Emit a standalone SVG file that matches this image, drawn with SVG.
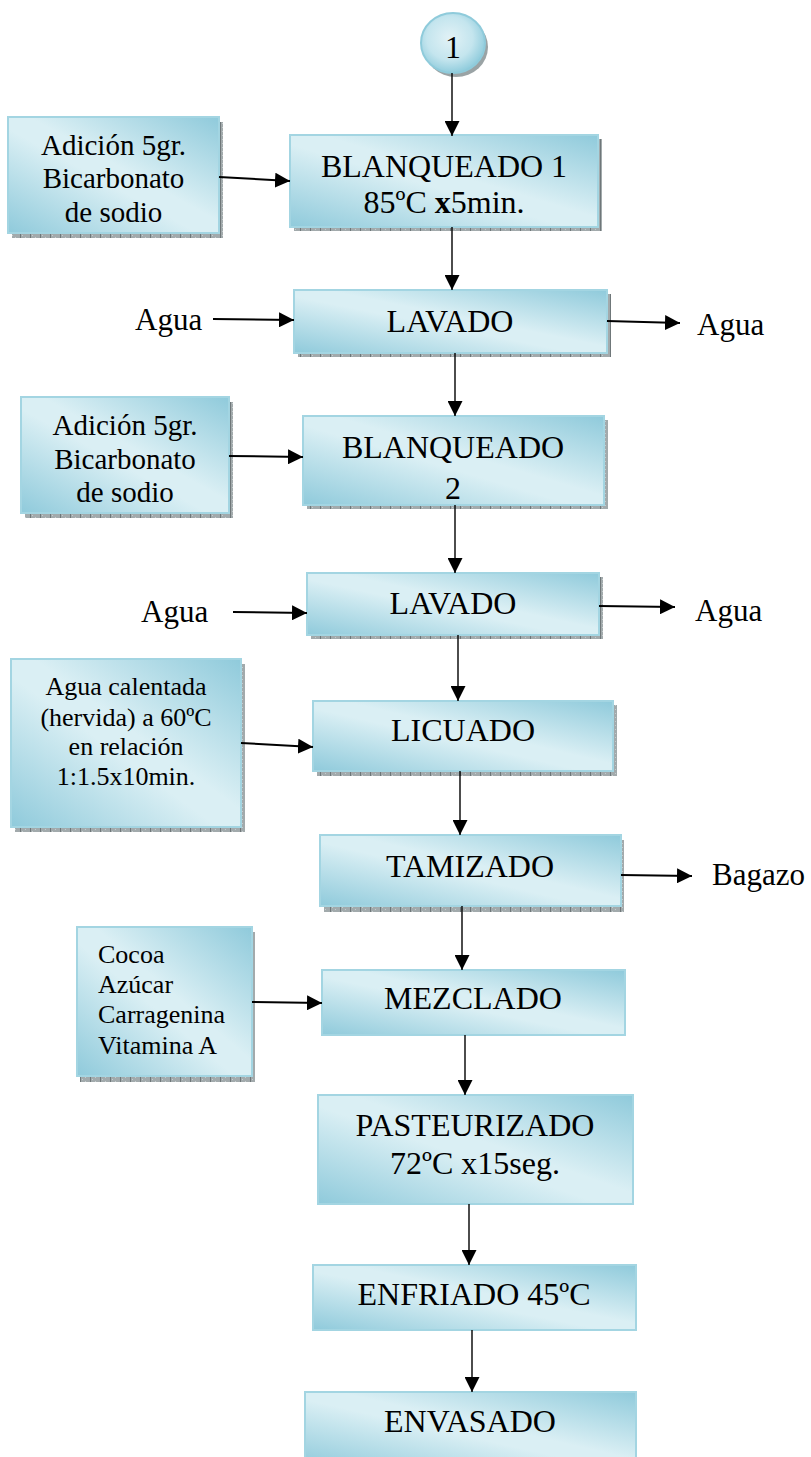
<svg xmlns="http://www.w3.org/2000/svg" width="811" height="1457" viewBox="0 0 811 1457">
  <style>
    .box { fill: url(#boxFill); stroke: #a3d5e2; stroke-width: 2; }
    .shadow { fill: url(#shadowHatch); }
    .t { font-family: "Liberation Serif", "Times New Roman", serif; fill: #000; }
    .main { font-size: 32px; text-anchor: middle; }
    .side { font-size: 29px; text-anchor: middle; }
    .small { font-size: 26px; }
    .mid { text-anchor: middle; }
    .lbl { font-size: 31px; }
    .vline { stroke: #000; stroke-width: 1.4; fill: none; marker-end: url(#head); }
    .hline { stroke: #000; stroke-width: 2; fill: none; marker-end: url(#head); }
  </style>
  <defs>
    <linearGradient id="boxFill" x1="0" y1="1" x2="1" y2="0">
      <stop offset="0" stop-color="#8fcadb"/>
      <stop offset="0.45" stop-color="#daeff4"/>
      <stop offset="0.55" stop-color="#daeff4"/>
      <stop offset="1" stop-color="#8fcadb"/>
    </linearGradient>
    <radialGradient id="ballFill" cx="0.45" cy="0.42" r="0.6">
      <stop offset="0" stop-color="#e2f2f6"/>
      <stop offset="0.6" stop-color="#c4e5ee"/>
      <stop offset="1" stop-color="#8ccadb"/>
    </radialGradient>
    <pattern id="shadowHatch" width="10" height="4" patternUnits="userSpaceOnUse">
      <rect width="10" height="4" fill="#a2aaac"/>
      <rect x="0" y="0" width="1" height="4" fill="#6f7779"/>
      <rect x="5" y="1" width="1" height="1" fill="#c6cccd"/>
      <rect x="2" y="3" width="1" height="1" fill="#c6cccd"/>
    </pattern>
    <marker id="head" viewBox="0 0 15 15" refX="15" refY="7.5" markerWidth="15" markerHeight="15" markerUnits="userSpaceOnUse" orient="auto">
      <path d="M0,0 L15,7.5 L0,15 Z" fill="#000"/>
    </marker>
  </defs>

  <!-- connector circle -->
  <g id="n-start">
    <ellipse cx="456" cy="47" rx="32" ry="30" fill="#9aa3a5"/>
    <ellipse cx="453" cy="43" rx="32" ry="30" fill="url(#ballFill)" stroke="#8fcbdb" stroke-width="2"/>
    <text class="t main" x="453" y="58">1</text>
  </g>

  <g id="n-blanqueado1">
    <rect class="shadow" x="294" y="139" width="308" height="92"/>
    <rect class="box" x="290" y="135" width="308" height="92"/>
    <text class="t main" x="444" y="177">BLANQUEADO 1</text>
    <text class="t main" x="444" y="213">85ºC <tspan font-weight="bold">x</tspan>5min.</text>
  </g>

  <g id="n-adicion1">
    <rect class="shadow" x="12" y="122" width="211" height="116"/>
    <rect class="box" x="8" y="117" width="211" height="116"/>
    <text class="t side" x="113.5" y="155">Adición 5gr.</text>
    <text class="t side" x="113.5" y="188">Bicarbonato</text>
    <text class="t side" x="113.5" y="222">de sodio</text>
  </g>

  <g id="n-lavado1">
    <rect class="shadow" x="298" y="294" width="313" height="63"/>
    <rect class="box" x="294" y="290" width="313" height="63"/>
    <text class="t main" x="450" y="332">LAVADO</text>
  </g>

  <g id="n-agua-in1"><text class="t lbl" x="135" y="330">Agua</text></g>
  <g id="n-agua-out1"><text class="t lbl" x="697" y="335">Agua</text></g>

  <g id="n-adicion2">
    <rect class="shadow" x="25" y="402" width="208" height="116"/>
    <rect class="box" x="21" y="397" width="208" height="116"/>
    <text class="t side" x="125" y="435">Adición 5gr.</text>
    <text class="t side" x="125" y="469">Bicarbonato</text>
    <text class="t side" x="125" y="502">de sodio</text>
  </g>

  <g id="n-blanqueado2">
    <rect class="shadow" x="307" y="420" width="301" height="89"/>
    <rect class="box" x="303" y="416" width="301" height="89"/>
    <text class="t main" x="453" y="458">BLANQUEADO</text>
    <text class="t main" x="453" y="499">2</text>
  </g>

  <g id="n-lavado2">
    <rect class="shadow" x="311" y="577" width="292" height="62"/>
    <rect class="box" x="307" y="573" width="292" height="62"/>
    <text class="t main" x="453" y="614">LAVADO</text>
  </g>

  <g id="n-agua-in2"><text class="t lbl" x="141" y="622">Agua</text></g>
  <g id="n-agua-out2"><text class="t lbl" x="695" y="621">Agua</text></g>

  <g id="n-agua-calentada">
    <rect class="shadow" x="15" y="664" width="230" height="168"/>
    <rect class="box" x="11" y="659" width="230" height="168"/>
    <text class="t small mid" x="126" y="695">Agua calentada</text>
    <text class="t small mid" x="126" y="726">(hervida) a 60ºC</text>
    <text class="t small mid" x="126" y="755">en relación</text>
    <text class="t small mid" x="126" y="785">1:1.5x10min.</text>
  </g>

  <g id="n-licuado">
    <rect class="shadow" x="317" y="705" width="300" height="71"/>
    <rect class="box" x="313" y="701" width="300" height="70"/>
    <text class="t main" x="463" y="741">LICUADO</text>
  </g>

  <g id="n-tamizado">
    <rect class="shadow" x="324" y="840" width="300" height="72"/>
    <rect class="box" x="320" y="835" width="301" height="71"/>
    <text class="t main" x="470" y="877">TAMIZADO</text>
  </g>

  <g id="n-bagazo"><text class="t lbl" x="712" y="885">Bagazo</text></g>

  <g id="n-ingredientes">
    <rect class="shadow" x="80" y="932" width="175" height="150"/>
    <rect class="box" x="77" y="927" width="175" height="149"/>
    <text class="t small" x="98" y="963">Cocoa</text>
    <text class="t small" x="98" y="993">Azúcar</text>
    <text class="t small" x="98" y="1023">Carragenina</text>
    <text class="t small" x="98" y="1054">Vitamina A</text>
  </g>

  <g id="n-mezclado">
    <rect class="box" x="322" y="970" width="303" height="65"/>
    <text class="t main" x="473" y="1009">MEZCLADO</text>
  </g>

  <g id="n-pasteurizado">
    <rect class="box" x="318" y="1095" width="315" height="109"/>
    <text class="t main" x="475" y="1136">PASTEURIZADO</text>
    <text class="t main" x="475" y="1174">72ºC x15seg.</text>
  </g>

  <g id="n-enfriado">
    <rect class="box" x="313" y="1265" width="323" height="65"/>
    <text class="t main" x="474" y="1305">ENFRIADO 45ºC</text>
  </g>

  <g id="n-envasado">
    <rect class="box" x="305" y="1392" width="331" height="75"/>
    <text class="t main" x="470" y="1432">ENVASADO</text>
  </g>

  <!-- flow connectors -->
  <g id="connectors">
    <line class="vline" x1="452" y1="73" x2="452" y2="136"/>
    <line class="vline" x1="452" y1="227" x2="452" y2="290"/>
    <line class="vline" x1="455" y1="353" x2="455" y2="416"/>
    <line class="vline" x1="455" y1="505" x2="455" y2="573"/>
    <line class="vline" x1="458" y1="635" x2="458" y2="701"/>
    <line class="vline" x1="460" y1="771" x2="460" y2="835"/>
    <line class="vline" x1="462" y1="906" x2="462" y2="970"/>
    <line class="vline" x1="465" y1="1035" x2="465" y2="1095"/>
    <line class="vline" x1="469" y1="1204" x2="469" y2="1265"/>
    <line class="vline" x1="472" y1="1330" x2="472" y2="1392"/>

    <line class="hline" x1="219" y1="177" x2="290" y2="181"/>
    <line class="hline" x1="213" y1="319" x2="294" y2="320"/>
    <line class="hline" x1="607" y1="321" x2="680" y2="323"/>
    <line class="hline" x1="229" y1="456" x2="303" y2="457"/>
    <line class="hline" x1="233" y1="612" x2="307" y2="613"/>
    <line class="hline" x1="599" y1="606" x2="675" y2="607"/>
    <line class="hline" x1="241" y1="743" x2="313" y2="747"/>
    <line class="hline" x1="621" y1="875" x2="692" y2="876"/>
    <line class="hline" x1="252" y1="1002" x2="322" y2="1003"/>
  </g>
</svg>
